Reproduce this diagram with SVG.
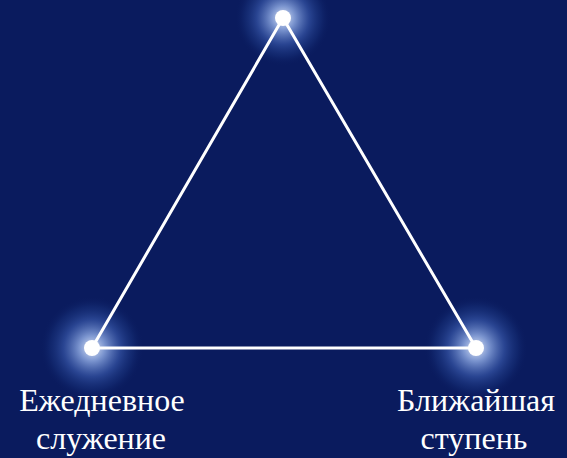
<svg xmlns="http://www.w3.org/2000/svg" width="567" height="458" viewBox="0 0 567 458">
<defs>
<radialGradient id="glow">
<stop offset="0" stop-color="#e2eafa" stop-opacity="1"/>
<stop offset="0.25" stop-color="#8ea9e2" stop-opacity="0.85"/>
<stop offset="0.55" stop-color="#3e60b4" stop-opacity="0.6"/>
<stop offset="0.8" stop-color="#21418f" stop-opacity="0.3"/>
<stop offset="1" stop-color="#0a1b5e" stop-opacity="0"/>
</radialGradient>
<style>
.lbl{font-family:"Liberation Serif","DejaVu Serif",serif;font-size:32px;fill:#ffffff;text-anchor:middle}
.dot{fill:#ffffff}
.edge{stroke:#ffffff;stroke-width:3;fill:none;stroke-linejoin:miter}
</style>
</defs>
<rect width="567" height="458" fill="#0a1b5e"/>
<g id="node-top">
<circle cx="283" cy="18" r="48" fill="url(#glow)"/>
<circle class="dot" cx="283" cy="18" r="8"/>
</g>
<g id="node-left">
<circle cx="92" cy="348" r="52" fill="url(#glow)"/>
<circle class="dot" cx="92" cy="348" r="8"/>
<text class="lbl" x="102" y="411">Ежедневное</text>
<text class="lbl" x="101" y="449">служение</text>
</g>
<g id="node-right">
<circle cx="476" cy="348" r="52" fill="url(#glow)"/>
<circle class="dot" cx="476" cy="348" r="8"/>
<text class="lbl" x="476" y="411">Ближайшая</text>
<text class="lbl" x="474" y="449">ступень</text>
</g>
<g id="connectors">
<polyline class="edge" points="92,348 283,18 476,348 92,348"/>
</g>
</svg>
